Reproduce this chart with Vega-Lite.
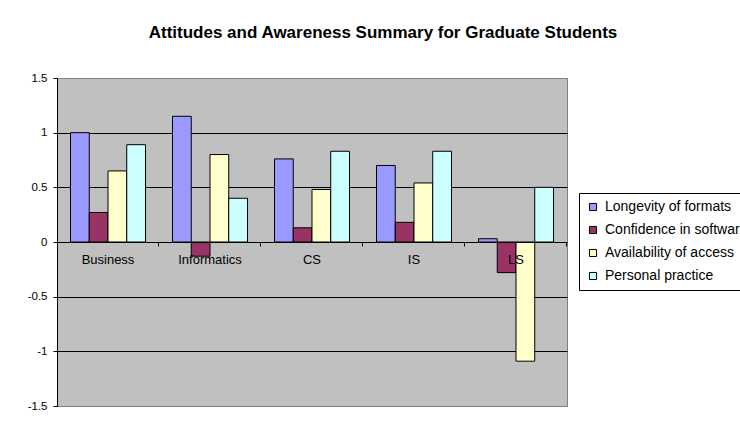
{
  "$schema": "https://vega.github.io/schema/vega-lite/v6.json",
  "width": 510,
  "height": 328,
  "autosize": {"type": "none"},
  "padding": {"left": 57, "top": 78, "right": 173, "bottom": 17},
  "background": "#ffffff",
  "title": {
    "text": "Attitudes and Awareness Summary for Graduate Students",
    "anchor": "middle",
    "dx": 71,
    "offset": 30,
    "font": "Liberation Sans",
    "fontSize": 17,
    "fontWeight": "bold",
    "color": "#000000"
  },
  "data": {
    "values": [
      {"program": "Business", "measure": "Longevity of formats", "score": 1.00},
      {"program": "Business", "measure": "Confidence in software", "score": 0.27},
      {"program": "Business", "measure": "Availability of access", "score": 0.65},
      {"program": "Business", "measure": "Personal practice", "score": 0.89},
      {"program": "Informatics", "measure": "Longevity of formats", "score": 1.15},
      {"program": "Informatics", "measure": "Confidence in software", "score": -0.13},
      {"program": "Informatics", "measure": "Availability of access", "score": 0.80},
      {"program": "Informatics", "measure": "Personal practice", "score": 0.40},
      {"program": "CS", "measure": "Longevity of formats", "score": 0.76},
      {"program": "CS", "measure": "Confidence in software", "score": 0.13},
      {"program": "CS", "measure": "Availability of access", "score": 0.48},
      {"program": "CS", "measure": "Personal practice", "score": 0.83},
      {"program": "IS", "measure": "Longevity of formats", "score": 0.70},
      {"program": "IS", "measure": "Confidence in software", "score": 0.18},
      {"program": "IS", "measure": "Availability of access", "score": 0.54},
      {"program": "IS", "measure": "Personal practice", "score": 0.83},
      {"program": "LS", "measure": "Longevity of formats", "score": 0.03},
      {"program": "LS", "measure": "Confidence in software", "score": -0.28},
      {"program": "LS", "measure": "Availability of access", "score": -1.09},
      {"program": "LS", "measure": "Personal practice", "score": 0.50}
    ]
  },
  "mark": {"type": "bar", "stroke": "#000000", "strokeWidth": 1},
  "encoding": {
    "x": {
      "field": "program",
      "type": "nominal",
      "sort": null,
      "scale": {"paddingInner": 0.265, "paddingOuter": 0.1325},
      "axis": {
        "title": null,
        "labelAngle": 0,
        "offset": -164,
        "bandPosition": 1.18,
        "domainColor": "#000000",
        "tickColor": "#000000",
        "tickSize": 4,
        "labelPadding": 7,
        "labelFont": "Liberation Sans",
        "labelFontSize": 13,
        "labelColor": "#000000",
        "grid": false,
        "zindex": 1
      }
    },
    "xOffset": {
      "field": "measure",
      "type": "nominal",
      "sort": ["Longevity of formats", "Confidence in software", "Availability of access", "Personal practice"],
      "scale": {"paddingInner": 0, "paddingOuter": 0}
    },
    "y": {
      "field": "score",
      "type": "quantitative",
      "scale": {"domain": [-1.5, 1.5], "nice": false, "zero": false},
      "axis": {
        "title": null,
        "values": [-1.5, -1, -0.5, 0, 0.5, 1, 1.5],
        "labelExpr": "toString(datum.value)",
        "domainColor": "#000000",
        "tickColor": "#000000",
        "tickSize": 4,
        "labelPadding": 6,
        "labelFont": "Liberation Sans",
        "labelFontSize": 11.5,
        "labelColor": "#000000",
        "grid": true,
        "gridColor": {"condition": {"test": "abs(datum.value) == 1.5", "value": "#808080"}, "value": "#000000"},
        "gridOpacity": 1,
        "zindex": 0
      }
    },
    "fill": {
      "field": "measure",
      "type": "nominal",
      "scale": {
        "domain": ["Longevity of formats", "Confidence in software", "Availability of access", "Personal practice"],
        "range": ["#9999FF", "#993366", "#FFFFCC", "#CCFFFF"]
      },
      "legend": {
        "title": null,
        "orient": "none",
        "legendX": 522,
        "legendY": 115,
        "symbolType": "square",
        "symbolSize": 50,
        "symbolStrokeColor": "#000000",
        "symbolStrokeWidth": 1,
        "symbolOpacity": 1,
        "labelFont": "Liberation Sans",
        "labelFontSize": 14,
        "labelColor": "#000000",
        "labelLimit": 400,
        "labelOffset": 5,
        "rowPadding": 9,
        "padding": 7,
        "strokeColor": "#000000",
        "fillColor": "#ffffff"
      }
    }
  },
  "config": {
    "view": {"fill": "#C0C0C0", "stroke": "#808080"},
    "font": "Liberation Sans"
  }
}
